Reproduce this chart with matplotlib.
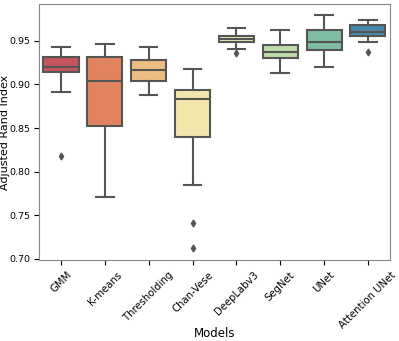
import numpy as np
import matplotlib
matplotlib.use('Agg')
import matplotlib.pyplot as plt
import seaborn as sns

models = ['GMM', 'K-means', 'Thresholding', 'Chan-Vese',
          'DeepLabv3', 'SegNet', 'UNet', 'Attention UNet']
whislo = [0.891, 0.771, 0.888, 0.785, 0.941, 0.913, 0.920, 0.949]
q1     = [0.914, 0.852, 0.904, 0.840, 0.949, 0.930, 0.939, 0.9555]
med    = [0.920, 0.904, 0.916, 0.883, 0.952, 0.9375, 0.9485, 0.960]
q3     = [0.931, 0.931, 0.928, 0.894, 0.956, 0.945, 0.962, 0.9675]
whishi = [0.9425, 0.946, 0.943, 0.918, 0.9645, 0.962, 0.980, 0.974]
fliers = [[0.818], [], [], [0.741, 0.712], [0.936], [], [], [0.937]]

stats = []
for i, m in enumerate(models):
    stats.append(dict(label=m, whislo=whislo[i], q1=q1[i], med=med[i],
                      q3=q3[i], whishi=whishi[i], fliers=fliers[i]))

colors = [sns.desaturate(c, 0.75) for c in sns.color_palette('Spectral', len(models))]
edge = '#555555'

fig = plt.figure(figsize=(3.99, 3.41), dpi=100)
ax = fig.add_axes([0.098, 0.238, 0.879, 0.750])

bp = ax.bxp(stats, positions=np.arange(len(models)), widths=0.8,
            patch_artist=True, showfliers=True,
            boxprops=dict(edgecolor=edge, linewidth=1.5),
            medianprops=dict(color=edge, linewidth=1.5),
            whiskerprops=dict(color=edge, linewidth=1.5),
            capprops=dict(color=edge, linewidth=1.5),
            flierprops=dict(marker='d', markerfacecolor=edge, markeredgecolor=edge,
                            markersize=3.5, linestyle='none'))
for patch, c in zip(bp['boxes'], colors):
    patch.set_facecolor(c)

ax.set_xlim(-0.5, len(models) - 0.5)
ax.set_ylim(0.699, 0.992)
ax.set_yticks([0.70, 0.75, 0.80, 0.85, 0.90, 0.95])
ax.set_xticks(np.arange(len(models)))
ax.set_xticklabels(models, rotation=45, fontsize=7.3)
ax.tick_params(axis='y', labelsize=6.8, pad=3)
ax.set_xlabel('Models', fontsize=8.5)
ax.set_ylabel('Adjusted Rand Index', fontsize=8)
ax.xaxis.set_label_coords(0.5, -0.262)
ax.yaxis.set_label_coords(-0.084, 0.5)
for s in ax.spines.values():
    s.set_color('#888888')

fig.savefig('out.png', dpi=100)
